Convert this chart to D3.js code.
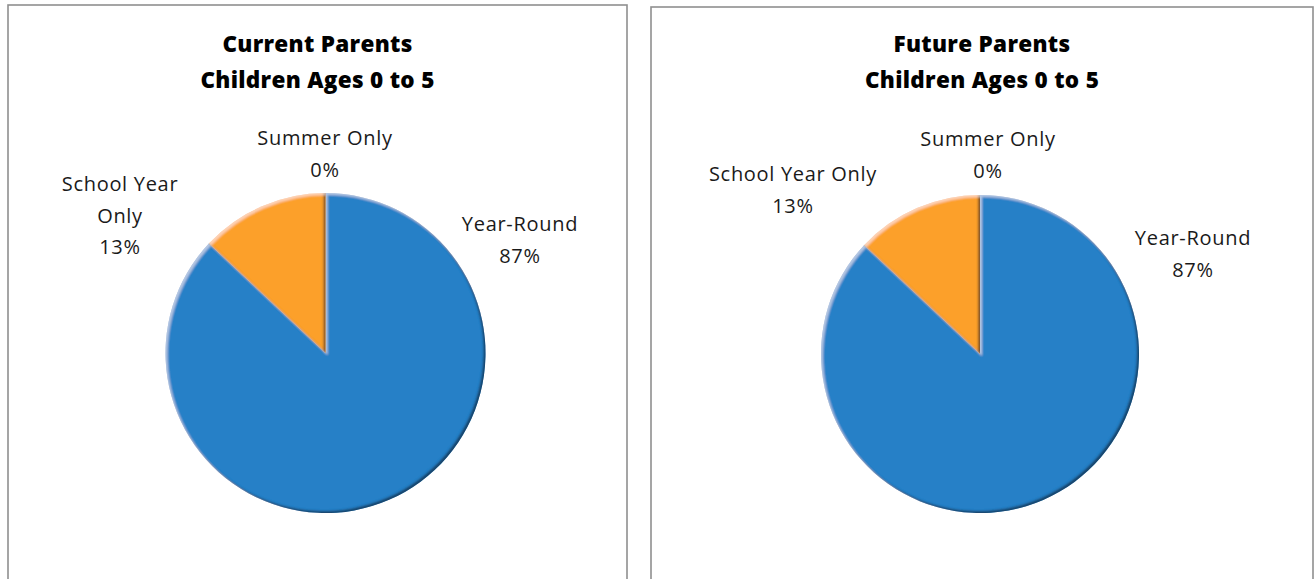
<!DOCTYPE html>
<html>
<head>
<meta charset="utf-8">
<script src="https://cdn.jsdelivr.net/npm/d3@7"></script>
<style>
  html, body { margin: 0; padding: 0; background: #ffffff; }
  svg { display: block; }
  .title { font-family: "Open Sans", "Noto Sans", sans-serif; font-weight: 800; font-size: 22.5px; fill: #000; letter-spacing: 0.3px; }
  .lbl { font-family: "Open Sans", "Noto Sans", sans-serif; font-weight: 400; font-size: 20px; fill: #1a1a1a; letter-spacing: 0.7px; }
</style>
</head>
<body>
<svg id="chart" width="1314" height="579"></svg>
<script>
// Care schedule preference, share of respondents
const categories = ["Year-Round", "School Year Only", "Summer Only"];
const currentValues = [87, 13, 0];
const futureValues = [87, 13, 0];
const titles = [
  ["Current Parents", "Children Ages 0 to 5"],
  ["Future Parents", "Children Ages 0 to 5"]
];
const colors = ["#2580c7", "#fca02a", "#a5a5a5"];

const svg = d3.select("#chart");

// Bevel filter: light rim on upper-left edges, dark rim on lower-right edges
const defs = svg.append("defs");
const f = defs.append("filter").attr("id", "bevel")
  .attr("x", "-10%").attr("y", "-10%").attr("width", "120%").attr("height", "120%");
f.append("feGaussianBlur").attr("in", "SourceAlpha").attr("stdDeviation", 1.2).attr("result", "blur");
f.append("feOffset").attr("in", "blur").attr("dx", -2.5).attr("dy", -2.5).attr("result", "offDark");
f.append("feComposite").attr("in", "SourceAlpha").attr("in2", "offDark").attr("operator", "out").attr("result", "darkBand");
f.append("feFlood").attr("flood-color", "#16202c").attr("flood-opacity", 0.8).attr("result", "darkCol");
f.append("feComposite").attr("in", "darkCol").attr("in2", "darkBand").attr("operator", "in").attr("result", "darkEdge");
f.append("feOffset").attr("in", "blur").attr("dx", 2).attr("dy", 2).attr("result", "offLight");
f.append("feComposite").attr("in", "SourceAlpha").attr("in2", "offLight").attr("operator", "out").attr("result", "lightBand");
f.append("feFlood").attr("flood-color", "#ffffff").attr("flood-opacity", 0.45).attr("result", "lightCol");
f.append("feComposite").attr("in", "lightCol").attr("in2", "lightBand").attr("operator", "in").attr("result", "lightEdge");
const m = f.append("feMerge");
m.append("feMergeNode").attr("in", "SourceGraphic");
m.append("feMergeNode").attr("in", "darkEdge");
m.append("feMergeNode").attr("in", "lightEdge");

const panels = [
  { x: 8, y: 5, w: 619, cx: 325.5, cy: 353, r: 160, tx: 317.5, values: currentValues,
    labels: [
      { lines: ["Year-Round", "87%"], x: 520, y: 226 },
      { lines: ["School Year", "Only", "13%"], x: 120, y: 186 },
      { lines: ["Summer Only", "0%"], x: 325, y: 140 }
    ] },
  { x: 651, y: 7, w: 662, cx: 980, cy: 354, r: 159, tx: 982, values: futureValues,
    labels: [
      { lines: ["Year-Round", "87%"], x: 1193, y: 240 },
      { lines: ["School Year Only", "13%"], x: 793, y: 176 },
      { lines: ["Summer Only", "0%"], x: 988, y: 141 }
    ] }
];

const pie = d3.pie().sort(null).value(d => d);

panels.forEach((p, pi) => {
  const g = svg.append("g");
  // panel frame (bottom runs past the visible area)
  g.append("rect")
    .attr("x", p.x).attr("y", p.y).attr("width", p.w).attr("height", 600)
    .attr("fill", "#ffffff").attr("stroke", "#8f8f8f").attr("stroke-width", 1.6);

  g.selectAll("text.title").data(titles[pi]).join("text")
    .attr("class", "title")
    .attr("x", p.tx).attr("y", (d, i) => 46 + i * 36)
    .attr("text-anchor", "middle").attr("dominant-baseline", "middle")
    .text(d => d);

  const arc = d3.arc().innerRadius(0).outerRadius(p.r);
  const arcs = pie(p.values);
  g.append("g").attr("transform", `translate(${p.cx},${p.cy})`)
    .selectAll("path").data(arcs.filter(a => a.value > 0)).join("path")
    .attr("d", arc)
    .attr("fill", d => colors[d.index])
    .attr("filter", "url(#bevel)");

  p.labels.forEach((lb, li) => {
    const t = g.append("text").attr("class", "lbl").attr("text-anchor", "middle");
    const pct = Math.round(arcs[li].value) + "%";
    const lines = lb.lines.slice(0, -1).concat([pct]);
    lines.forEach((s, k) => {
      t.append("tspan").attr("x", lb.x).attr("y", lb.y + k * 31.5)
        .attr("dominant-baseline", "middle").text(s);
    });
  });
});
</script>
</body>
</html>
